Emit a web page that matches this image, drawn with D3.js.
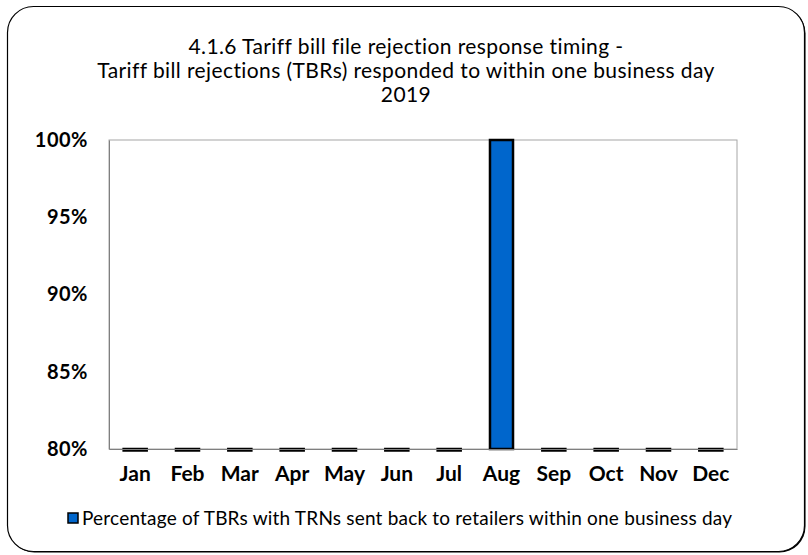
<!DOCTYPE html>
<html><head><meta charset="utf-8">
<script src="https://cdn.jsdelivr.net/npm/d3@7"></script>
<style>body{margin:0;background:#fff;} svg{display:block;font-family:Lato, sans-serif;}</style>
</head><body><svg id="c" width="808" height="555"></svg>
<script>
const titleLines = ["4.1.6 Tariff bill file rejection response timing -", "Tariff bill rejections (TBRs) responded to within one business day", "2019"];
const months = ["Jan","Feb","Mar","Apr","May","Jun","Jul","Aug","Sep","Oct","Nov","Dec"];
const values = [0,0,0,0,0,0,0,1,0,0,0,0];
const yTicks = [0.80,0.85,0.90,0.95,1.00];
const seriesName = "Percentage of TBRs with TRNs sent back to retailers within one business day";

const svg = d3.select("#c");
// shadow
svg.append("rect").attr("x",8.5).attr("y",7.5).attr("width",797).attr("height",545).attr("rx",26)
  .attr("fill","#000");
svg.append("rect").attr("x",7.5).attr("y",6.5).attr("width",797).attr("height",545).attr("rx",26)
  .attr("fill","#fff").attr("stroke","#000").attr("stroke-width",1.2);

const m = {l:109,r:737,t:140,b:449};
const x = d3.scaleBand().domain(months).range([m.l,m.r]).paddingInner(0.56).paddingOuter(0.28);
const y = d3.scaleLinear().domain([0.8,1]).range([m.b,m.t]);

const t = svg.append("text").attr("text-anchor","middle").attr("font-size",21).attr("letter-spacing",0.4).attr("fill","#000");
titleLines.forEach((s,i)=>t.append("tspan").attr("x",406).attr("y",54+i*24).text(s));

svg.append("rect").attr("x",m.l).attr("y",m.t).attr("width",m.r-m.l).attr("height",m.b-m.t)
  .attr("fill","none").attr("stroke","#a6a6a6").attr("stroke-width",1);

svg.append("g").selectAll("rect").data(values).join("rect")
  .attr("x",(d,i)=>x(months[i])).attr("width",x.bandwidth())
  .attr("y",d=>y(Math.max(0.8,Math.min(1,d))))
  .attr("height",d=>Math.max(1.5, y(0.8)-y(Math.max(0.8,Math.min(1,d)))))
  .attr("fill","#0066cc").attr("stroke","#000").attr("stroke-width",2.5);

const ya = svg.append("g").attr("transform",`translate(${m.l},0)`)
  .call(d3.axisLeft(y).tickValues(yTicks).tickFormat(d3.format(".0%")).tickSize(0).tickPadding(21));
ya.select(".domain").attr("stroke","#7f7f7f");
ya.selectAll("text").attr("font-size",20).attr("letter-spacing",0.5).attr("font-weight","bold").attr("fill","#000").attr("font-family","Lato, sans-serif");

const xa = svg.append("g").attr("transform",`translate(0,${m.b})`)
  .call(d3.axisBottom(x).tickSize(0).tickPadding(17));
xa.select(".domain").attr("stroke","#7f7f7f");
xa.selectAll("text").attr("font-size",21).attr("font-weight","bold").attr("fill","#000").attr("font-family","Lato, sans-serif");

const lg = svg.append("g");
lg.append("rect").attr("x",68).attr("y",513).attr("width",10).attr("height",10).attr("fill","#0066cc").attr("stroke","#000").attr("stroke-width",1.5);
lg.append("text").attr("x",82).attr("y",525).attr("font-size",19).attr("letter-spacing",0.2).attr("fill","#000").text(seriesName);
</script></body></html>
